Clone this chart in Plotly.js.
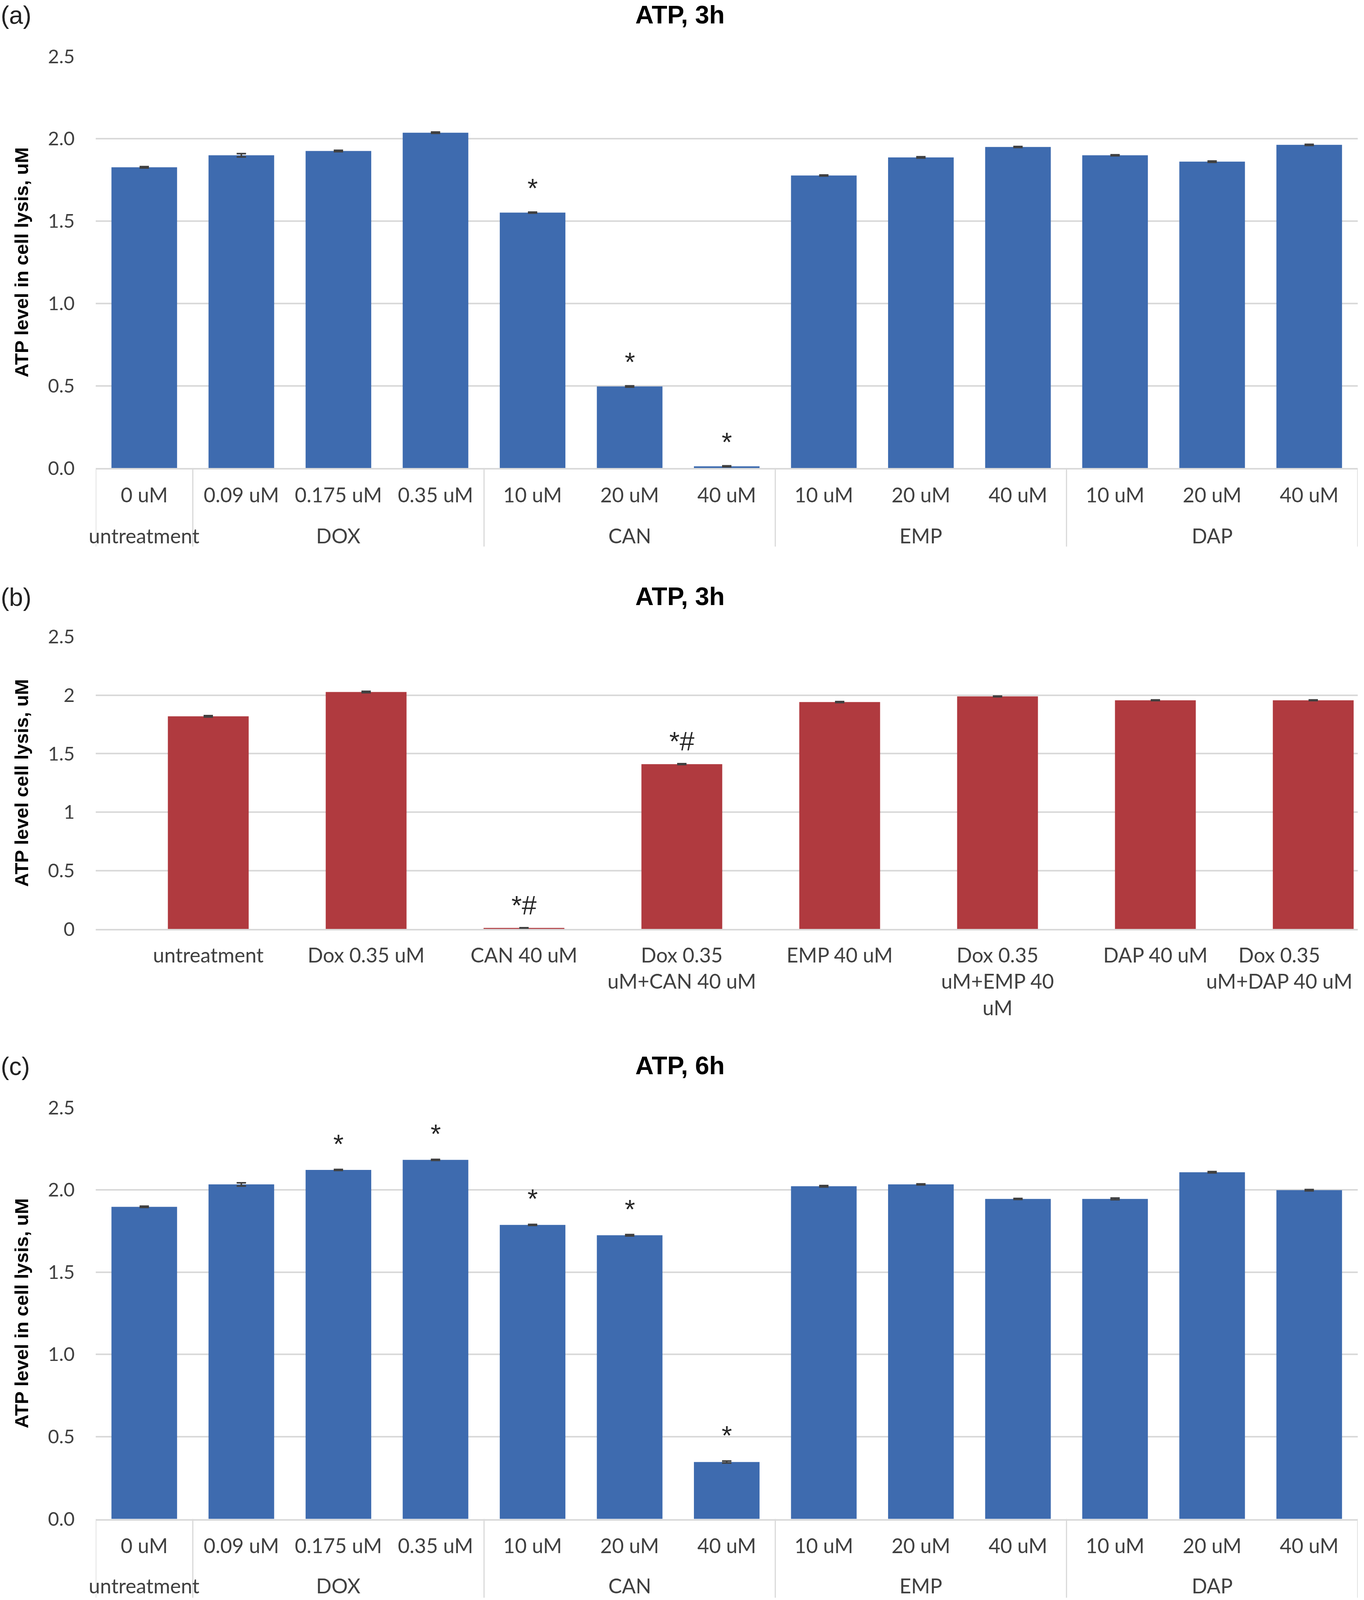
<!DOCTYPE html>
<html>
<head>
<meta charset="utf-8">
<script src="https://cdn.plot.ly/plotly-3.0.1.min.js"></script>
<style>html,body{margin:0;padding:0;background:#fff;overflow:hidden}</style>
</head>
<body>
<div id="chart"></div>
<script>
// ---------- DATA ----------
// Panel (a): ATP, 3h
const groupNamesA = ["untreatment", "DOX", "CAN", "EMP", "DAP"];
const groupSizesA = [1, 3, 3, 3, 3];
const concA = ["0 uM", "0.09 uM", "0.175 uM", "0.35 uM", "10 uM", "20 uM", "40 uM", "10 uM", "20 uM", "40 uM", "10 uM", "20 uM", "40 uM"];
const atpA = [1.827, 1.900, 1.926, 2.037, 1.552, 0.496, 0.011, 1.777, 1.887, 1.950, 1.900, 1.861, 1.963];
const errA = [0.004, 0.010, 0.004, 0.004, 0.003, 0.004, 0.003, 0.003, 0.004, 0.003, 0.003, 0.004, 0.003];
const sigA = ["", "", "", "", "*", "*", "*", "", "", "", "", "", ""];

// Panel (b): ATP, 3h (combinations)
const catsB = ["untreatment", "Dox 0.35 uM", "CAN 40 uM", "Dox 0.35 uM+CAN 40 uM", "EMP 40 uM", "Dox 0.35 uM+EMP 40 uM", "DAP 40 uM", "Dox 0.35 uM+DAP 40 uM"];
const tickTextB = ["untreatment", "Dox 0.35 uM", "CAN 40 uM", "Dox 0.35<br>uM+CAN 40 uM", "EMP 40 uM", "Dox 0.35<br>uM+EMP 40<br>uM", "DAP 40 uM", "Dox 0.35<br>uM+DAP 40 uM"];
const atpB = [1.820, 2.028, 0.010, 1.411, 1.942, 1.990, 1.957, 1.957];
const errB = [0.006, 0.006, 0.002, 0.004, 0.004, 0.003, 0.003, 0.003];
const sigB = ["", "", "*#", "*#", "", "", "", ""];

// Panel (c): ATP, 6h
const groupNamesC = ["untreatment", "DOX", "CAN", "EMP", "DAP"];
const groupSizesC = [1, 3, 3, 3, 3];
const concC = ["0 uM", "0.09 uM", "0.175 uM", "0.35 uM", "10 uM", "20 uM", "40 uM", "10 uM", "20 uM", "40 uM", "10 uM", "20 uM", "40 uM"];
const atpC = [1.897, 2.033, 2.121, 2.182, 1.787, 1.724, 0.346, 2.022, 2.033, 1.945, 1.945, 2.107, 1.998];
const errC = [0.004, 0.010, 0.003, 0.003, 0.003, 0.004, 0.006, 0.004, 0.003, 0.003, 0.005, 0.004, 0.004];
const sigC = ["", "", "*", "*", "*", "*", "*", "", "", "", "", "", ""];

const panelTitles = ["ATP, 3h", "ATP, 3h", "ATP, 6h"];
const panelLetters = ["(a)", "(b)", "(c)"];
const yTitles = ["ATP level in cell lysis, uM", "ATP level cell lysis, uM", "ATP level in cell lysis, uM"];

// ---------- LAYOUT (positions given in reference pixels, 3491 x 4877) ----------
const REF_W = 3491, REF_H = 4877;
const W = REF_W;
const H = window.innerHeight > 0 ? Math.min(window.innerHeight, REF_H) : REF_H;
const sy = H / REF_H;                 // vertical scale if the window is shorter than the reference
const fs = (1 + sy) / 2;              // font scale
const fx = x => x / REF_W;
const fy = y => 1 - y / REF_H;
const PLOT_L = 245, PLOT_R = 3475;
const P = {
  a: {top: 172, bottom: 1427, titleY: 45, groupY: 1633, divBottom: 1666},
  b: {top: 1941, bottom: 2832, titleY: 1818},
  c: {top: 3376, bottom: 4630, titleY: 3248, groupY: 4833, divBottom: 4870}
};
const LAST_LABEL_SHIFT_B = -0.215;    // Excel pulls the last wrapped label of (b) left to keep it in frame
const BLUE = "#3E6BAF", RED = "#B03A3F", GRID = "#D9D9D9", TXT = "#404040";
const TICK_FONT = {family: 'Lato, "Liberation Sans", sans-serif', size: Math.round(57 * fs), color: TXT};
const YTICK_FONT = {family: 'Lato, "Liberation Sans", sans-serif', size: Math.round(53 * fs), color: TXT};
const YTITLE_FONT = {family: '"Liberation Sans", Arial, sans-serif', size: Math.round(53 * fs), color: "#000", weight: "bold"};
const SIG_FONT = {family: '"Liberation Sans", Arial, sans-serif', size: Math.round(74 * fs), color: "#262626"};
const CLEAR = "rgba(0,0,0,0)";

function idx(arr) { return arr.map((_, i) => i); }
function groupCenters(sizes) { let s = 0; return sizes.map(n => { const c = s + (n - 1) / 2; s += n; return c; }); }
function groupBounds(sizes) { let s = -0.5; const out = [s]; sizes.forEach(n => { s += n; out.push(s); }); return out; }

function yAxis(p, anchor, fmt, title) {
  const ax = {
    domain: [fy(p.bottom), fy(p.top)], anchor: anchor, range: [0, 2.5],
    tickmode: "linear", tick0: 0, dtick: 0.5,
    showgrid: true, gridcolor: GRID, gridwidth: 4, zeroline: false, showline: false,
    ticks: "outside", ticklen: 43, tickcolor: CLEAR, tickfont: YTICK_FONT,
    automargin: false, fixedrange: true,
    title: {text: title, font: YTITLE_FONT, standoff: 34}
  };
  if (fmt) ax.tickformat = fmt;
  return ax;
}
function xAxis(anchor, extra) {
  return Object.assign({
    domain: [fx(PLOT_L), fx(PLOT_R)], anchor: anchor, tickangle: 0,
    ticks: "outside", ticklen: Math.round(81 * sy - 0.9 * TICK_FONT.size), tickcolor: CLEAR, tickfont: TICK_FONT,
    showgrid: false, zeroline: false, showline: true, linecolor: GRID, linewidth: 4,
    automargin: false, fixedrange: true
  }, extra);
}

const tickPosB = idx(catsB).map((v, i) => i === catsB.length - 1 ? v + LAST_LABEL_SHIFT_B : v);

const layout = {
  width: W, height: H,
  margin: {l: 0, r: 0, t: 0, b: 0, pad: 0},
  paper_bgcolor: "#fff", plot_bgcolor: "#fff",
  showlegend: false,
  font: {family: 'Lato, "Liberation Sans", sans-serif', color: TXT},
  xaxis: xAxis("y", {range: [-0.5, 12.5], tickmode: "array", tickvals: idx(concA), ticktext: concA}),
  yaxis: yAxis(P.a, "x", ".1f", yTitles[0]),
  xaxis2: xAxis("y2", {range: [-0.713, 7.282], tickmode: "array", tickvals: tickPosB, ticktext: tickTextB,
                       ticklen: Math.round(78 * sy - 0.9 * TICK_FONT.size)}),
  yaxis2: yAxis(P.b, "x2", null, yTitles[1]),
  xaxis3: xAxis("y3", {range: [-0.5, 12.5], tickmode: "array", tickvals: idx(concC), ticktext: concC}),
  yaxis3: yAxis(P.c, "x3", ".1f", yTitles[2]),
  annotations: [],
  shapes: []
};

// panel titles and letters
[P.a, P.b, P.c].forEach((p, k) => {
  layout.annotations.push({xref: "paper", yref: "paper", x: 0.4985, y: fy(p.titleY), xanchor: "center", yanchor: "middle",
    text: panelTitles[k], showarrow: false, font: {family: '"Liberation Sans", Arial, sans-serif', size: Math.round(71 * fs), color: "#000", weight: "bold"}});
  layout.annotations.push({xref: "paper", yref: "paper", x: 0, y: fy(p.titleY + 2), xanchor: "left", yanchor: "middle",
    text: panelLetters[k], showarrow: false, font: {family: '"Liberation Sans", Arial, sans-serif', size: Math.round(70 * fs), color: "#222"}});
});

// second-level (group) labels and dividers for panels a and c
function addGroups(names, sizes, xref, p) {
  const centers = groupCenters(sizes);
  names.forEach((g, i) => {
    layout.annotations.push({xref: xref, yref: "paper", x: centers[i], y: fy(p.groupY), xanchor: "center", yanchor: "middle",
      text: g, showarrow: false, font: TICK_FONT});
  });
  groupBounds(sizes).forEach(b => {
    layout.shapes.push({type: "line", xref: xref, yref: "paper", x0: b, x1: b, y0: fy(p.bottom), y1: fy(p.divBottom),
      line: {color: GRID, width: 3}});
  });
}
addGroups(groupNamesA, groupSizesA, "x", P.a);
addGroups(groupNamesC, groupSizesC, "x3", P.c);

// significance marks (gap above bar given in reference px)
function addSig(sig, vals, errs, xs, xref, yref, gapRef, glyphCenter) {
  sig.forEach((s, i) => {
    if (!s) return;
    layout.annotations.push({xref: xref, yref: yref, x: xs[i], y: vals[i] + errs[i], xanchor: "center", yanchor: "bottom",
      yshift: Math.round(gapRef * sy - glyphCenter * SIG_FONT.size), text: s, showarrow: false, font: SIG_FONT});
  });
}
addSig(sigA, atpA, errA, idx(concA), "x", "y", 85, 0.73);
addSig(sigB, atpB, errB, idx(catsB), "x2", "y2", 72, 0.62);
addSig(sigC, atpC, errC, idx(concC), "x3", "y3", 90, 0.73);

const errStyle = arr => ({type: "data", array: arr, visible: true, color: "#404040", thickness: 4, width: 12});
const data = [
  {type: "bar", x: idx(concA), y: atpA, xaxis: "x", yaxis: "y", width: 0.676, marker: {color: BLUE}, error_y: errStyle(errA), hoverinfo: "y"},
  {type: "bar", x: idx(catsB), y: atpB, xaxis: "x2", yaxis: "y2", width: 0.512, marker: {color: RED}, error_y: errStyle(errB), hoverinfo: "y"},
  {type: "bar", x: idx(concC), y: atpC, xaxis: "x3", yaxis: "y3", width: 0.676, marker: {color: BLUE}, error_y: errStyle(errC), hoverinfo: "y"}
];

const el = document.getElementById("chart");
el.style.width = W + "px";
el.style.height = H + "px";
Plotly.newPlot(el, data, layout, {staticPlot: true, displayModeBar: false});
</script>
</body>
</html>
